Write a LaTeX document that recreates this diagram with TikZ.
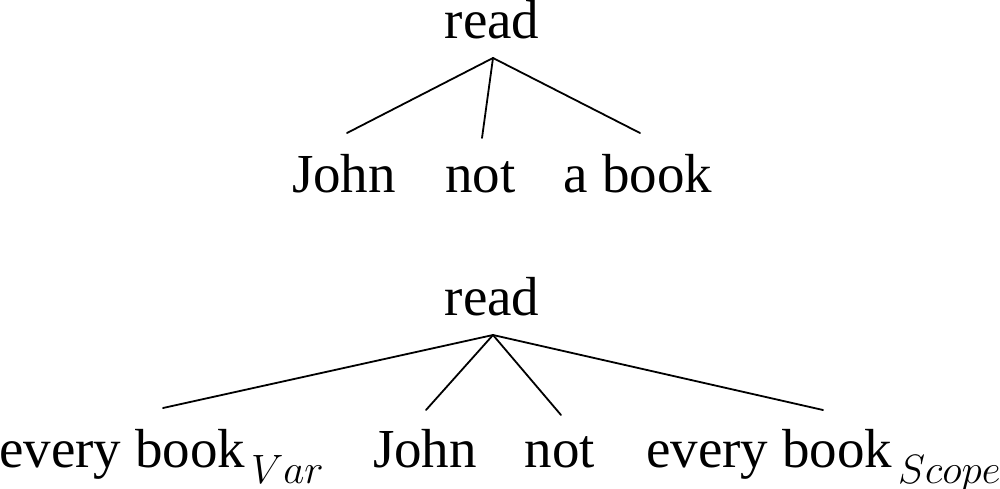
\RequirePackage{fix-cm}
\documentclass[tikz,border=0pt]{standalone}
\usepackage{fontspec}
\setmainfont{Liberation Serif}
\newcommand{\subtxt}[1]{\hspace{6pt}\raisebox{-16pt}{\fontsize{41}{41}\selectfont$#1$}}
\begin{document}
\begin{tikzpicture}[x=1pt,y=-1pt,
  lbl/.style={font=\fontsize{55}{60}\selectfont, inner sep=0pt, anchor=base},
  lblw/.style={font=\fontsize{55}{60}\selectfont, inner sep=0pt, anchor=base west},
  edge/.style={line width=1.8pt, line cap=round}]
\useasboundingbox (0,0) rectangle (1000,489);
% top tree
\node[lbl] (r1) at (492,39) {read};
\node[lbl] (j1) at (344,192) {John};
\node[lbl] (n1) at (480.5,192) {not};
\node[lbl] (a1) at (638,192) {a book};
\draw[edge] ([xshift=1pt,yshift=-19pt]r1.base) -- ([xshift=3pt,yshift=59pt]j1.base);
\draw[edge] ([xshift=1pt,yshift=-19pt]r1.base) -- ([xshift=1.5pt,yshift=54pt]n1.base);
\draw[edge] ([xshift=1pt,yshift=-19pt]r1.base) -- ([xshift=2pt,yshift=59pt]a1.base);
% bottom tree
\node[lbl] (r2) at (492,315) {read};
\node[lblw] (e1) at (-1,467) {every book\subtxt{Var}};
\node[lbl] (j2) at (425,467) {John};
\node[lbl] (n2) at (560,467) {not};
\node[lblw] (e2) at (646,467) {every book\subtxt{Scope}};
\draw[edge] ([xshift=1pt,yshift=-20pt]r2.base) -- ([xshift=164pt,yshift=59pt]e1.base west);
\draw[edge] ([xshift=1pt,yshift=-20pt]r2.base) -- ([xshift=1pt,yshift=57pt]j2.base);
\draw[edge] ([xshift=1pt,yshift=-20pt]r2.base) -- ([xshift=1pt,yshift=52pt]n2.base);
\draw[edge] ([xshift=1pt,yshift=-20pt]r2.base) -- ([xshift=177pt,yshift=57pt]e2.base west);
\end{tikzpicture}
\end{document}
